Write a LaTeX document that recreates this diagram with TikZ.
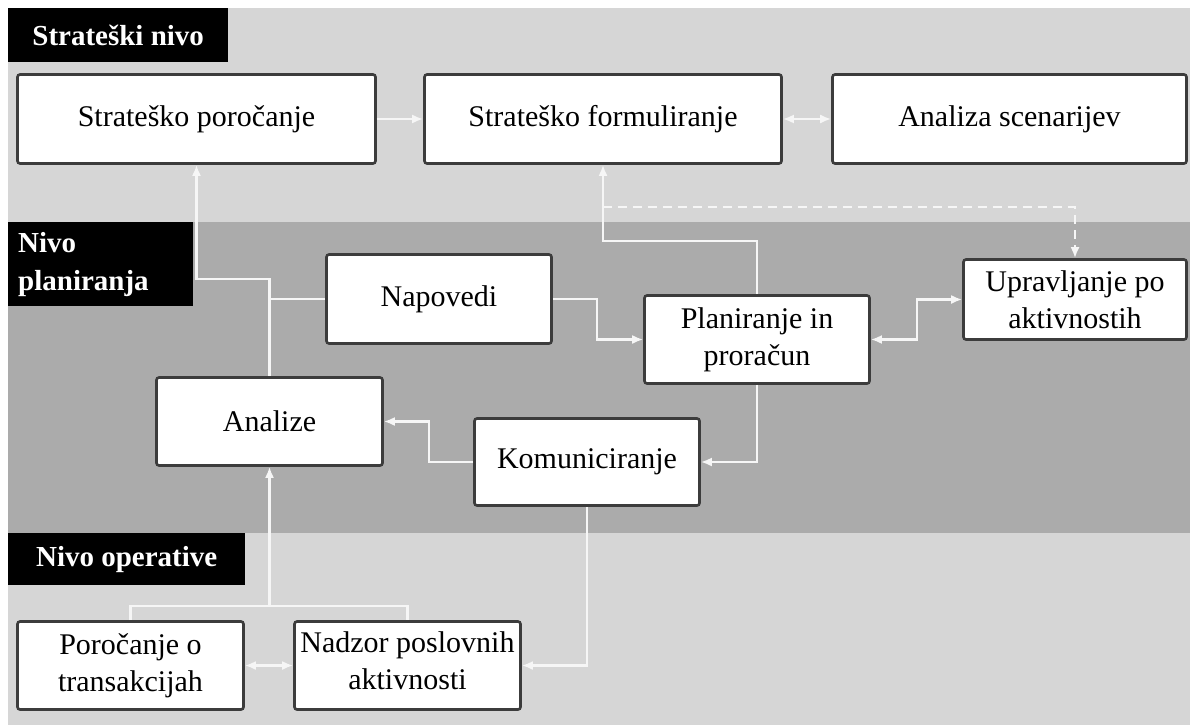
\documentclass[tikz,border=0pt]{standalone}
\usepackage{fontspec}
\setmainfont{Liberation Serif}
\usetikzlibrary{arrows.meta}

\definecolor{bandlight}{HTML}{D6D6D6}
\definecolor{banddark}{HTML}{ABABAB}
\definecolor{boxline}{HTML}{3C3C3C}
\definecolor{flowwhite}{HTML}{F6F6F6}

\begin{document}
\begin{tikzpicture}[x=1pt,y=-1pt,
  box/.style={draw=boxline, line width=2.6pt, fill=white, rounded corners=2.5pt,
    inner sep=0pt, align=center, font=\fontsize{30}{37}\selectfont},
  lvl/.style={fill=black, text=white, inner sep=0pt, anchor=north west,
    font=\bfseries\fontsize{29}{38}\selectfont},
  link/.style={draw=flowwhite, line width=2.2pt},
  tip/.style={-{Latex[length=11pt,width=9pt]}},
  flow/.style={link, tip},
  biflow/.style={link, {Latex[length=11pt,width=9pt]}-{Latex[length=11pt,width=9pt]}},
  dflow/.style={flow, dash pattern=on 9pt off 6pt}
]
\useasboundingbox (0,0) rectangle (1190,725);

% background bands of the three levels
\fill[white] (0,0) rectangle (1190,725);
\fill[bandlight] (8,8) rectangle (1190,222);
\fill[banddark] (8,222) rectangle (1190,533);
\fill[bandlight] (8,533) rectangle (1190,725);

% level captions
\node[lvl, minimum width=220, minimum height=54] (lvS) at (8,8) {Strateški nivo};
\node[lvl, minimum height=84, text width=165pt, inner xsep=10pt, align=left] (lvP) at (8,222) {Nivo\\planiranja};
\node[lvl, minimum width=237, minimum height=52] (lvO) at (8,533) {Nivo operative};

% strategic level
\node[box, minimum width=358, minimum height=89] (sp) at (196.5,119) {Strateško poročanje};
\node[box, minimum width=357, minimum height=89] (sf) at (603,119) {Strateško formuliranje};
\node[box, minimum width=354, minimum height=89] (as) at (1009.5,119) {Analiza scenarijev};

% planning level
\node[box, minimum width=225, minimum height=89] (nap) at (439,299) {Napovedi};
\node[box, minimum width=225, minimum height=88] (pln) at (757,339.5) {Planiranje in\\proračun};
\node[box, minimum width=223, minimum height=80] (upr) at (1075,299.5) {Upravljanje po\\aktivnostih};
\node[box, minimum width=226, minimum height=88] (ana) at (269.5,421.5) {Analize};
\node[box, minimum width=225, minimum height=87] (kom) at (587,462) {Komuniciranje};

% operative level
\node[box, minimum width=226, minimum height=88] (por) at (130.5,665.5) {Poročanje o\\transakcijah};
\node[box, minimum width=226, minimum height=88] (nad) at (407.5,665.5) {Nadzor poslovnih\\aktivnosti\rule[-9pt]{0pt}{0pt}};

% junction points
\coordinate (jA) at (269.5,279);
\coordinate (jB) at (269.5,606);
\coordinate (dStart) at (603,207);

% connectors
\draw[flow] (sp.east) -- (sf.west);
\draw[biflow] (sf.east) -- (as.west);

\draw[flow] (ana.north) -- (jA) -| (sp.south);
\draw[link] (nap.west) -- (nap.west -| jA);

\draw[flow] (pln.north) -- ++(0,-53) -| (sf.south);
\draw[dflow] (dStart) -| (upr.north);

\draw[flow] (nap.east) -- ++(44,0) |- (pln.west);
\draw[biflow] (pln.east) -- ++(46,0) |- (upr.west);
\draw[flow] (pln.south) |- (kom.east);
\draw[flow] (kom.west) -- ++(-44,0) |- (ana.east);
\draw[flow] (kom.south) |- (nad.east);

\draw[link] (por.north) |- (jB) -| (nad.north);
\draw[flow] (jB) -- (ana.south);
\draw[biflow] (por.east) -- (nad.west);
\end{tikzpicture}
\end{document}
